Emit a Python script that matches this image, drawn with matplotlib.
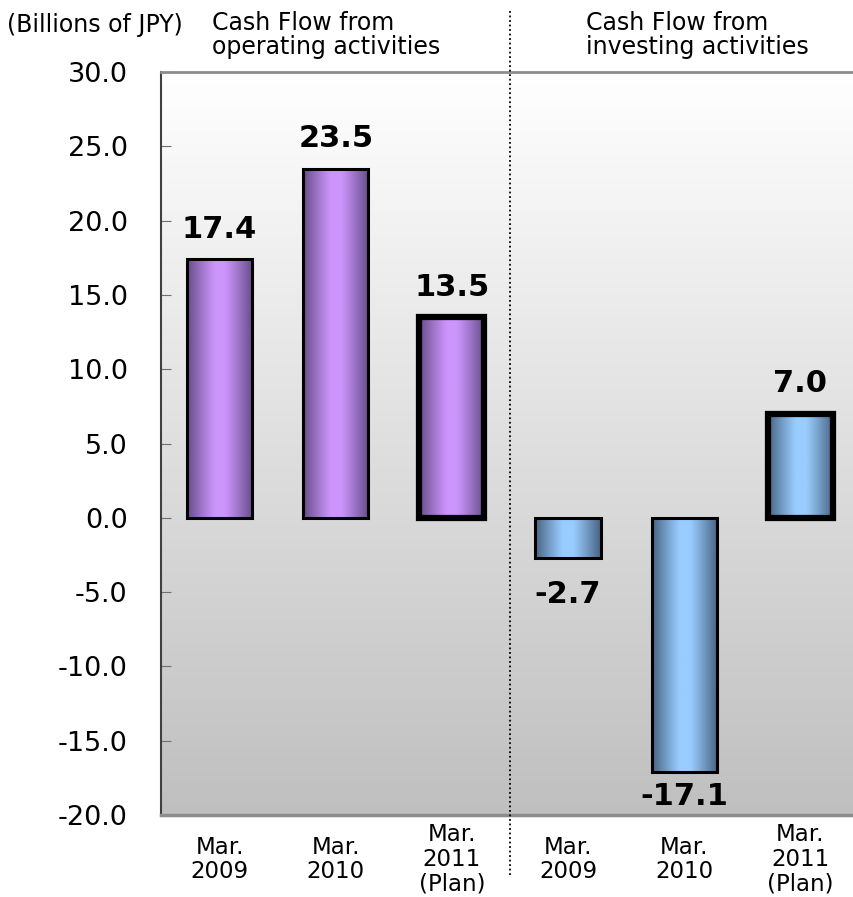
import numpy as np
import matplotlib
matplotlib.use('Agg')
import matplotlib.pyplot as plt
from matplotlib.colors import to_rgb

# data (billions of JPY)
periods = ['Mar.\n2009', 'Mar.\n2010', 'Mar.\n2011\n(Plan)']
operating = [17.4, 23.5, 13.5]
investing = [-2.7, -17.1, 7.0]
is_plan = [False, False, True]
section_titles = ['Cash Flow from\noperating activities',
                  'Cash Flow from\ninvesting activities']
y_ticks = [-20.0, -15.0, -10.0, -5.0, 0.0, 5.0, 10.0, 15.0, 20.0, 25.0, 30.0]

plt.rcParams['font.family'] = ['DejaVu Sans']

fig = plt.figure(figsize=(8.54, 8.97), dpi=100)
ax = fig.add_axes([0.1885, 0.0914, 0.8125, 0.8283])

x = np.arange(6)
values = operating + investing
labels = periods + periods
plans = is_plan + is_plan
ax.set_xlim(-0.505, 5.47)
ax.set_ylim(-20, 30)

# background: white at top fading to grey at bottom
bg = np.linspace(0.75, 1.0, 256).reshape(-1, 1)
bg = np.dstack([bg, bg, bg])
ax.imshow(bg, extent=(-0.505, 5.47, -20, 30), origin='lower',
          aspect='auto', zorder=0)

def bar_gradient(light, dark, n=200):
    # light plateau in the middle, darker towards both edges
    t = np.abs(np.linspace(-1, 1, n))
    t = np.clip((t - 0.15) / 0.85, 0, 1) ** 1.1
    l = np.array(to_rgb(light))
    d = np.array(to_rgb(dark))
    row = l[None, :] * (1 - t[:, None]) + d[None, :] * t[:, None]
    return row[None, :, :]

purple = bar_gradient('#cc95fc', '#664c88')
blue = bar_gradient('#99ccff', '#476381')

width = 0.56
bars = ax.bar(x, values, width=width, facecolor='none', edgecolor='black',
              zorder=3)
for i, b in enumerate(bars):
    grad = purple if i < 3 else blue
    x0 = b.get_x()
    y0, y1 = sorted([0, values[i]])
    im = ax.imshow(grad, extent=(x0, x0 + width, y0, y1), aspect='auto',
                   zorder=2)
    im.set_clip_path(b)
    b.set_linewidth(4.5 if plans[i] else 2.2)
    if values[i] >= 0:
        ax.text(x[i], values[i] + 1.05, f'{values[i]:.1f}', ha='center',
                va='bottom', fontsize=22, fontweight='bold', zorder=4)
    else:
        ax.text(x[i], max(values[i] - 1.5, -17.8), f'{values[i]:.1f}',
                ha='center', va='top', fontsize=22, fontweight='bold', zorder=4)

# dotted separator between the two sections
ax.axvline(2.5, ymin=-0.081, ymax=1.083, color='black', linestyle=(0, (1, 1.5)),
           linewidth=1.3, clip_on=False, zorder=5)

# axes styling
ax.spines['right'].set_visible(False)
ax.spines['top'].set_color('#8c8c8c')
ax.spines['top'].set_linewidth(2)
ax.spines['bottom'].set_color('#8c8c8c')
ax.spines['bottom'].set_linewidth(2.5)
ax.spines['left'].set_color('#404040')
ax.spines['left'].set_linewidth(1.5)

ax.set_yticks(y_ticks)
ax.set_yticklabels([f'{v:.1f}' for v in y_ticks], fontsize=19.5)
ax.tick_params(axis='y', direction='in', length=7, color='#707070', pad=24)

ax.set_xticks(x)
ax.set_xticklabels(labels, fontsize=16.5, linespacing=1.1)
ax.tick_params(axis='x', length=0, pad=32)
for t in ax.get_xticklabels():
    t.set_va('center')

# header texts
fig.text(7 / 854, 1 - 25 / 897, '(Billions of JPY)', fontsize=17,
         ha='left', va='center')
fig.text(212 / 854, 1 - 35 / 897, section_titles[0], fontsize=17,
         ha='left', va='center', linespacing=1.0)
fig.text(586 / 854, 1 - 35 / 897, section_titles[1], fontsize=17,
         ha='left', va='center', linespacing=1.0)

plt.savefig('out.png', dpi=100)
